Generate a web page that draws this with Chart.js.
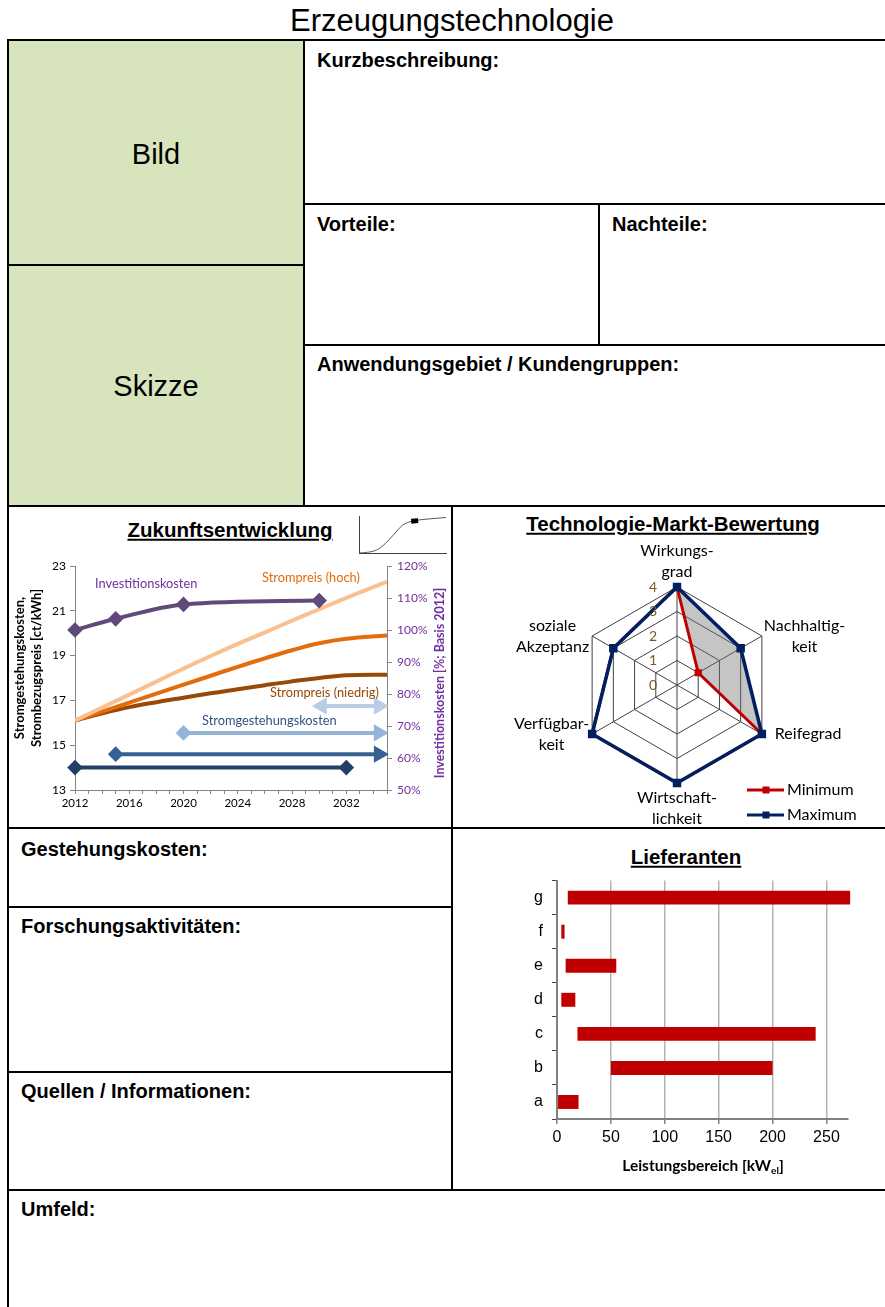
<!DOCTYPE html>
<html lang="de">
<head>
<meta charset="utf-8">
<title>Erzeugungstechnologie</title>
<script src="https://cdn.jsdelivr.net/npm/chart.js@4.4.1/dist/chart.umd.min.js"></script>
<style>
  html,body{margin:0;padding:0;background:#fff}
  body{position:relative;width:885px;height:1307px;overflow:hidden;font-family:Arial,"Liberation Sans",sans-serif;color:#000}
  .hl{position:absolute;height:2px;background:#000}
  .vl{position:absolute;width:2px;background:#000}
  .cell{position:absolute;background:#d8e4bc}
  .t{position:absolute;white-space:nowrap;line-height:1}
  .lbl{font-weight:bold;font-size:20px;transform:translateY(-50%)}
  .big{font-size:29px;transform:translate(-50%,-50%)}
  .head{font-weight:bold;font-size:20.5px;text-decoration:underline;transform:translate(-50%,-50%)}
  .note{font-family:Lato,sans-serif;font-size:12.8px;transform:translateY(-50%)}
  .axt{font-family:Lato,sans-serif;font-weight:bold;font-size:15.5px;transform:translate(-50%,-50%)}
  .axt sub{font-size:10px;vertical-align:-3px}
  canvas{position:absolute}
</style>
</head>
<body>
<div class="t" style="left:452px;top:20px;font-size:31px;transform:translate(-50%,-50%)">Erzeugungstechnologie</div>

<!-- green picture cells -->
<div class="cell" style="left:9px;top:41px;width:295px;height:224px"></div>
<div class="cell" style="left:9px;top:266px;width:295px;height:240px"></div>

<!-- table rules -->
<div class="hl" style="left:7px;top:39px;width:878px"></div>
<div class="hl" style="left:303px;top:203px;width:582px"></div>
<div class="hl" style="left:7px;top:264px;width:298px"></div>
<div class="hl" style="left:303px;top:344px;width:582px"></div>
<div class="hl" style="left:7px;top:505px;width:878px"></div>
<div class="hl" style="left:7px;top:827px;width:878px"></div>
<div class="hl" style="left:7px;top:906px;width:446px"></div>
<div class="hl" style="left:7px;top:1071px;width:446px"></div>
<div class="hl" style="left:7px;top:1189px;width:878px"></div>
<div class="vl" style="left:7px;top:39px;height:1268px"></div>
<div class="vl" style="left:303px;top:39px;height:468px"></div>
<div class="vl" style="left:598px;top:203px;height:143px"></div>
<div class="vl" style="left:451px;top:505px;height:686px"></div>

<div class="t big" style="left:156px;top:154px">Bild</div>
<div class="t big" style="left:156px;top:386px">Skizze</div>
<div class="t lbl" style="left:317px;top:60px">Kurzbeschreibung:</div>
<div class="t lbl" style="left:317px;top:224px">Vorteile:</div>
<div class="t lbl" style="left:612px;top:224px">Nachteile:</div>
<div class="t lbl" style="left:317px;top:364px">Anwendungsgebiet / Kundengruppen:</div>
<div class="t lbl" style="left:21px;top:849px">Gestehungskosten:</div>
<div class="t lbl" style="left:21px;top:926px">Forschungsaktivitäten:</div>
<div class="t lbl" style="left:21px;top:1091px">Quellen / Informationen:</div>
<div class="t lbl" style="left:21px;top:1209px">Umfeld:</div>

<div class="t head" style="left:230px;top:530px">Zukunftsentwicklung</div>
<div class="t head" style="left:673px;top:524px">Technologie-Markt-Bewertung</div>
<div class="t head" style="left:686px;top:857px">Lieferanten</div>

<canvas id="trend" width="442" height="287" style="left:9px;top:540px"></canvas>
<canvas id="scurve" width="98" height="50" style="left:352px;top:510px"></canvas>
<canvas id="radar" width="431" height="287" style="left:453px;top:540px"></canvas>
<canvas id="supply" width="431" height="328" style="left:453px;top:862px"></canvas>

<div class="t note" style="left:95px;top:583px;color:#7030a0">Investitionskosten</div>
<div class="t note" style="left:262px;top:577px;color:#e46c0a">Strompreis (hoch)</div>
<div class="t note" style="left:270px;top:692px;color:#984807">Strompreis (niedrig)</div>
<div class="t note" style="left:202px;top:720px;color:#2f5283">Stromgestehungskosten</div>
<div class="t axt" style="left:703px;top:1166px">Leistungsbereich [kW<sub>el</sub>]</div>

<script>
// ---- Zukunftsentwicklung ----
const years        = [2012, 2014, 2016, 2018, 2020, 2022, 2024, 2026, 2028, 2030, 2032, 2035];
const priceHigh    = [16.1, 16.68, 17.26, 17.84, 18.42, 18.98, 19.52, 20.04, 20.56, 21.07, 21.58, 22.3];
const priceMid     = [16.1, 16.5, 16.9, 17.3, 17.7, 18.1, 18.5, 18.88, 19.24, 19.55, 19.75, 19.9];
const priceLow     = [16.1, 16.42, 16.7, 16.92, 17.12, 17.32, 17.5, 17.68, 17.85, 18.0, 18.12, 18.15];
const invYears     = [2012, 2015, 2020, 2030];
const invPercent   = [100, 103.5, 108, 109.2];
// Stromgestehungskosten ranges: [from year, to year, level in ct/kWh]
const lcoeA        = [2012, 2032, 14.0];
const lcoeB        = [2015, 2034.4, 14.6];
const lcoeC        = [2020, 2034.4, 15.55];
const lcoeD        = [2030.2, 2034.4, 16.75];
const leftTitle    = ['Stromgestehungskosten,', 'Strombezugspreis [ct/kWh]'];
const rightTitle   = 'Investitionskosten [%; Basis 2012]';

// ---- Technologie-Markt-Bewertung ----
const criteria     = [['Wirkungs-', 'grad'], ['Nachhaltig-', 'keit'], ['Reifegrad'], ['Wirtschaft-', 'lichkeit'], ['Verfügbar-', 'keit'], ['soziale', 'Akzeptanz']];
const ratingMin    = [4, 1, 4, 4, 4, 3];
const ratingMax    = [4, 3, 4, 4, 4, 3];
const ratingTicks  = [0, 1, 2, 3, 4];

// ---- Lieferanten ----
const suppliers    = ['g', 'f', 'e', 'd', 'c', 'b', 'a'];
const powerFrom    = [10, 4, 8, 4, 19, 50, 1];
const powerTo      = [272, 7, 55, 17, 240, 200, 20];

// ---- S-curve icon ----
const sCurveX      = [0, 1, 2, 3, 4, 5, 5.8, 6.5, 8, 10];
const sCurveY      = [0, 0.2, 0.8, 2.5, 5, 7.5, 8.4, 8.8, 9.2, 9.6];
const sMarkX       = [6.0, 6.8];
const sMarkY       = [8.6, 8.75];

Chart.defaults.font.family = 'Lato, sans-serif';
Chart.defaults.animation = false;
Chart.defaults.responsive = false;
Chart.defaults.plugins.legend.display = false;
Chart.defaults.plugins.tooltip.enabled = false;

const pts = (xs, ys) => xs.map((x, i) => ({x, y: ys[i]}));
const seg = r => [{x: r[0], y: r[2]}, {x: r[1], y: r[2]}];
const axisGrey = '#868686';

const trendTitles = {
  id: 'trendTitles',
  afterDraw(chart) {
    const ctx = chart.ctx;
    ctx.save();
    ctx.font = 'bold 13px Lato, sans-serif';
    ctx.textAlign = 'center';
    ctx.textBaseline = 'middle';
    ctx.fillStyle = '#000';
    ctx.translate(11, 128);
    ctx.rotate(-Math.PI / 2);
    ctx.fillText(leftTitle[0], 0, 0);
    ctx.fillText(leftTitle[1], 0, 17);
    ctx.restore();
    ctx.save();
    ctx.font = 'bold 12.5px Lato, sans-serif';
    ctx.textAlign = 'center';
    ctx.textBaseline = 'middle';
    ctx.fillStyle = '#7030a0';
    ctx.translate(431, 143);
    ctx.rotate(-Math.PI / 2);
    ctx.fillText(rightTitle, 0, 0);
    ctx.restore();
  }
};

const arrowStyle = (color, startStyle, startRot) => ({
  borderColor: color, backgroundColor: color, pointBackgroundColor: color, pointBorderColor: color,
  borderWidth: 4, pointStyle: [startStyle, 'triangle'], pointRotation: [startRot, 90],
  pointRadius: [startStyle === 'triangle' ? 6 : 5, 6], clip: false, yAxisID: 'y'
});

new Chart(document.getElementById('trend'), {
  type: 'line',
  data: {
    datasets: [
      {data: pts(invYears, invPercent), yAxisID: 'y1', borderColor: '#604a7b', backgroundColor: '#604a7b',
       borderWidth: 4, pointStyle: 'rectRot', pointRadius: 5, cubicInterpolationMode: 'monotone', clip: false},
      {data: pts(years, priceHigh), borderColor: '#fac090', borderWidth: 4, pointRadius: 0, tension: 0.4},
      {data: pts(years, priceMid), borderColor: '#e46c0a', borderWidth: 4, pointRadius: 0, tension: 0.4},
      {data: pts(years, priceLow), borderColor: '#984807', borderWidth: 4, pointRadius: 0, tension: 0.4},
      {data: seg(lcoeA), borderColor: '#243f66', backgroundColor: '#243f66', borderWidth: 4,
       pointStyle: 'rectRot', pointRadius: 5, clip: false},
      Object.assign({data: seg(lcoeB)}, arrowStyle('#376092', 'rectRot', 0)),
      Object.assign({data: seg(lcoeC)}, arrowStyle('#95b3d7', 'rectRot', 0)),
      Object.assign({data: seg(lcoeD)}, arrowStyle('#b9cde5', 'triangle', -90))
    ]
  },
  options: {
    layout: {padding: {left: 36, top: 26, right: 20, bottom: 13}},
    scales: {
      x: {type: 'linear', min: 2012, max: 2035,
          ticks: {stepSize: 1, autoSkip: false, includeBounds: false, maxRotation: 0, padding: 2,
                  color: '#000', font: {size: 11.5}, callback: v => (v % 4 === 0 ? String(v) : '')},
          grid: {drawOnChartArea: false, tickLength: 4, color: axisGrey},
          border: {color: axisGrey},
          afterFit: s => { s.height = 24; }},
      y: {position: 'left', min: 13, max: 23,
          ticks: {stepSize: 2, color: '#000', font: {size: 12}, padding: 4},
          grid: {drawOnChartArea: false, tickLength: 5, color: axisGrey},
          border: {color: axisGrey},
          afterFit: s => { s.width = 30; }},
      y1: {position: 'right', min: 50, max: 120,
          ticks: {stepSize: 10, color: '#7030a0', font: {size: 12}, padding: 5, callback: v => v + '%'},
          grid: {drawOnChartArea: false, tickLength: 5, color: axisGrey},
          border: {color: axisGrey},
          afterFit: s => { s.width = 44; }}
    }
  },
  plugins: [trendTitles]
});

// small S-curve icon
new Chart(document.getElementById('scurve'), {
  type: 'line',
  data: {
    datasets: [
      {data: pts(sMarkX, sMarkY), borderColor: '#000', borderWidth: 5, pointRadius: 0, borderCapStyle: 'butt'},
      {data: pts(sCurveX, sCurveY), borderColor: '#595959', borderWidth: 1, pointRadius: 0, cubicInterpolationMode: 'monotone'}
    ]
  },
  options: {
    layout: {padding: {left: 7, top: 6, right: 4, bottom: 7}},
    scales: {
      x: {type: 'linear', min: 0, max: 10, ticks: {display: false}, grid: {display: false},
          border: {color: '#404040'}, afterFit: s => { s.height = 0; }},
      y: {min: 0, max: 10, ticks: {display: false}, grid: {display: false},
          border: {color: '#404040'}, afterFit: s => { s.width = 0; }}
    }
  }
});

// radar: labels, tick values and legend drawn around the scale
const radarText = {
  id: 'radarText',
  afterDraw(chart) {
    const ctx = chart.ctx, r = chart.scales.r;
    const R = r.drawingArea;
    ctx.save();
    ctx.font = '16px Lato, sans-serif';
    ctx.fillStyle = '#000';
    ctx.textBaseline = 'middle';
    ctx.textAlign = 'center';
    const lh = 21;
    criteria.forEach((lines, i) => {
      const p = r.getPointPosition(i, R);
      const w = Math.max(...lines.map(l => ctx.measureText(l).width));
      let cx, cy;
      if (i === 0) { cx = p.x; cy = p.y - 15 - (lines.length - 1) * lh; }
      else if (i === 3) { cx = p.x; cy = p.y + 15; }
      else if (i === 1) { cx = p.x + 2 + w / 2; cy = p.y - (lines.length - 1) * lh / 2; }
      else if (i === 2) { cx = p.x + 13 + w / 2; cy = p.y; }
      else { cx = p.x - 3 - w / 2; cy = p.y - (lines.length - 1) * lh / 2; }
      lines.forEach((l, k) => ctx.fillText(l, cx, cy + k * lh));
    });
    ctx.fillStyle = '#7a5a22';
    ctx.font = '14px Lato, sans-serif';
    ratingTicks.forEach(v => {
      const d = r.getDistanceFromCenterForValue(v);
      ctx.fillText(String(v), r.xCenter - 24, r.yCenter - d);
    });
    // legend
    ctx.font = '16px Lato, sans-serif';
    ctx.textAlign = 'left';
    chart.data.datasets.forEach((ds, k) => {
      const y = 250 + k * 25;
      ctx.strokeStyle = ds.borderColor;
      ctx.lineWidth = 3;
      ctx.beginPath(); ctx.moveTo(294, y); ctx.lineTo(331, y); ctx.stroke();
      ctx.fillStyle = ds.borderColor;
      ctx.fillRect(309.5, y - 3.5, 7, 7);
      ctx.fillStyle = '#000';
      ctx.fillText(ds.label, 334, y);
    });
    ctx.restore();
  }
};

new Chart(document.getElementById('radar'), {
  type: 'radar',
  data: {
    labels: criteria,
    datasets: [
      {label: 'Minimum', data: ratingMin, borderColor: '#c00000', backgroundColor: '#c00000',
       pointBackgroundColor: '#c00000', borderWidth: 3, pointStyle: 'rect', pointRadius: 3,
       fill: false, order: 1},
      {label: 'Maximum', data: ratingMax, borderColor: '#002060', backgroundColor: 'rgba(110,110,110,0.4)',
       pointBackgroundColor: '#002060', borderWidth: 3.5, pointStyle: 'rect', pointRadius: 3.5,
       fill: '-1', order: 0}
    ]
  },
  options: {
    layout: {padding: {left: 126, top: 47, right: 109, bottom: 44}},
    plugins: {filler: {drawTime: 'beforeDatasetsDraw'}},
    elements: {line: {tension: 0}},
    scales: {
      r: {min: 0, max: 4, beginAtZero: true,
          ticks: {stepSize: 1, display: false},
          pointLabels: {display: false},
          grid: {color: '#404040', lineWidth: 1},
          angleLines: {color: '#404040', lineWidth: 1}}
    }
  },
  plugins: [radarText]
});

// Lieferanten: power range per supplier
new Chart(document.getElementById('supply'), {
  type: 'bar',
  data: {
    labels: suppliers,
    datasets: [{
      data: suppliers.map((_, i) => [powerFrom[i], powerTo[i]]),
      backgroundColor: '#c00000', borderWidth: 0, borderSkipped: false,
      categoryPercentage: 1, barPercentage: 0.41, clip: false
    }]
  },
  options: {
    indexAxis: 'y',
    layout: {padding: {left: 64, top: 16, right: 36, bottom: 41}},
    scales: {
      x: {type: 'linear', min: 0, max: 270,
          ticks: {stepSize: 50, includeBounds: false, color: '#000', padding: 4,
                  font: {family: 'Arial, "Liberation Sans", sans-serif', size: 16}},
          grid: {color: '#b4b4b4', lineWidth: 1.5, tickColor: '#808080', tickLength: 5},
          border: {color: '#7f7f7f', width: 2},
          afterFit: s => { s.height = 30; }},
      y: {ticks: {color: '#000', padding: 9, font: {family: 'Arial, "Liberation Sans", sans-serif', size: 16}},
          grid: {offset: true, drawOnChartArea: false, tickLength: 5, color: '#404040'},
          border: {color: '#7f7f7f', width: 2},
          afterFit: s => { s.width = 40; }}
    }
  }
});
</script>
</body>
</html>
